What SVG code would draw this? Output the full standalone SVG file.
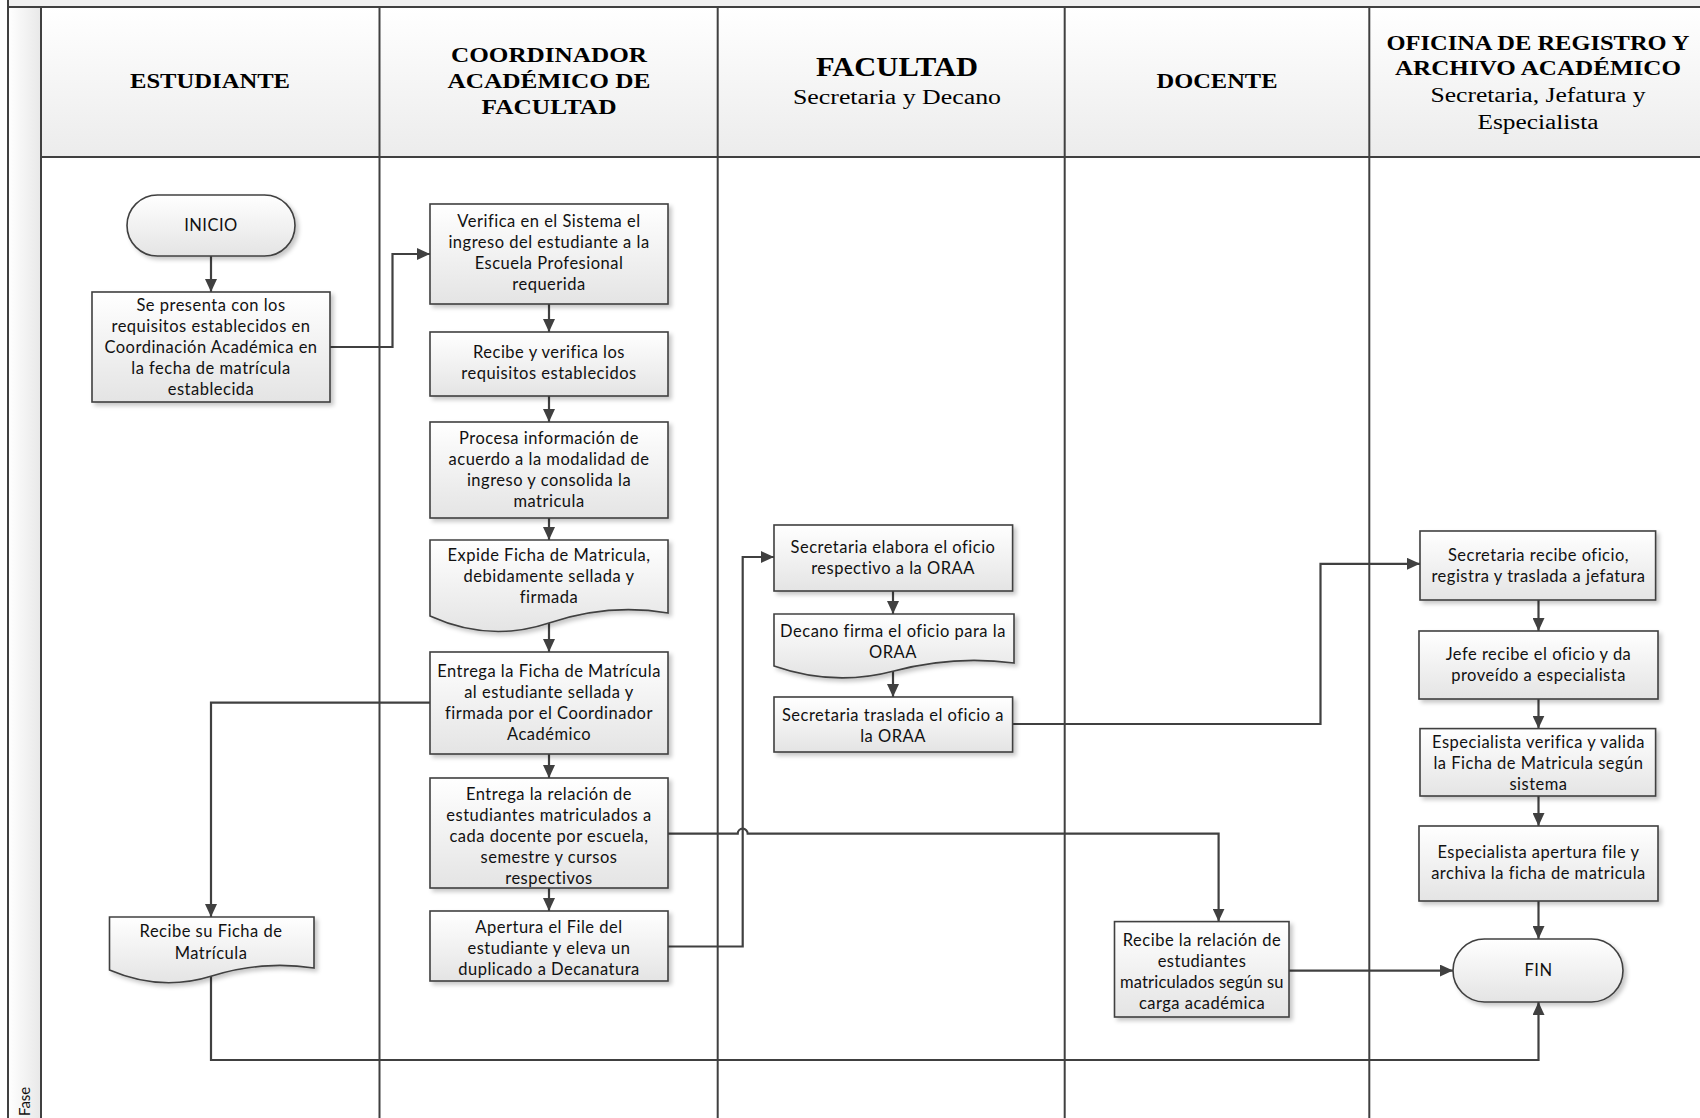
<svg xmlns="http://www.w3.org/2000/svg" width="1700" height="1118" viewBox="0 0 1700 1118">
  <defs>
    <linearGradient id="boxFill" x1="0" y1="0" x2="0" y2="1">
      <stop offset="0" stop-color="#ffffff"/>
      <stop offset="1" stop-color="#e4e4e4"/>
    </linearGradient>
    <linearGradient id="headFill" x1="0" y1="0" x2="0" y2="1">
      <stop offset="0" stop-color="#ffffff"/>
      <stop offset="1" stop-color="#ececec"/>
    </linearGradient>
    <linearGradient id="phaseFill" x1="0" y1="0" x2="1" y2="0">
      <stop offset="0" stop-color="#ffffff"/>
      <stop offset="1" stop-color="#e8e8e8"/>
    </linearGradient>
    <filter id="shadow" x="-10%" y="-10%" width="125%" height="130%">
      <feDropShadow dx="3" dy="3" stdDeviation="2" flood-color="#000" flood-opacity="0.22"/>
    </filter>
    <marker id="arrow" markerUnits="userSpaceOnUse" markerWidth="14" markerHeight="12" refX="13" refY="6" orient="auto">
      <path d="M0,0 L13,6 L0,12 Z" fill="#404040"/>
    </marker>
    <style>
      .frame { stroke: #404040; stroke-width: 2; fill: none; }
      .box { fill: url(#boxFill); stroke: #404040; stroke-width: 1.6; filter: url(#shadow); }
      .t { font-family: Lato, "Liberation Sans", sans-serif; font-size: 16.5px; letter-spacing: 0.5px; fill: #111; text-anchor: middle; }
      .h { font-family: "Liberation Serif", serif; font-weight: bold; font-size: 21px; fill: #000; text-anchor: middle; }
      .hs { font-family: "Liberation Serif", serif; font-size: 20px; fill: #000; text-anchor: middle; }
      .c { fill: none; stroke: #404040; stroke-width: 2.2; marker-end: url(#arrow); }
    </style>
  </defs>

  <!-- pool background -->
  <rect x="0" y="0" width="1700" height="1118" fill="#ffffff"/>
  <rect x="8" y="0" width="1692" height="7" fill="#f0f0f0"/>
  <rect x="8" y="7" width="33" height="1111" fill="url(#phaseFill)"/>
  <rect x="41" y="7" width="1659" height="150" fill="url(#headFill)"/>

  <!-- lane and header grid -->
  <g id="lanes" class="frame">
    <line x1="7" y1="7" x2="1700" y2="7"/>
    <line x1="8" y1="0" x2="8" y2="1118"/>
    <line x1="41" y1="7" x2="41" y2="1118"/>
    <line x1="379.5" y1="7" x2="379.5" y2="1118"/>
    <line x1="717.7" y1="7" x2="717.7" y2="1118"/>
    <line x1="1064.7" y1="7" x2="1064.7" y2="1118"/>
    <line x1="1369.3" y1="7" x2="1369.3" y2="1118"/>
    <line x1="41" y1="157" x2="1700" y2="157"/>
  </g>

  <!-- lane headers -->
  <g id="lane-headers">
    <text class="h" x="210" y="88" textLength="160" lengthAdjust="spacingAndGlyphs">ESTUDIANTE</text>
    <text class="h" x="549" y="62" textLength="196" lengthAdjust="spacingAndGlyphs">COORDINADOR</text>
    <text class="h" x="549" y="88" textLength="203" lengthAdjust="spacingAndGlyphs">ACADÉMICO DE</text>
    <text class="h" x="549" y="114" textLength="135" lengthAdjust="spacingAndGlyphs">FACULTAD</text>
    <text class="h" x="897" y="76" style="font-size:27px" textLength="162" lengthAdjust="spacingAndGlyphs">FACULTAD</text>
    <text class="hs" x="897" y="104" textLength="208" lengthAdjust="spacingAndGlyphs">Secretaria y Decano</text>
    <text class="h" x="1217" y="88" textLength="121" lengthAdjust="spacingAndGlyphs">DOCENTE</text>
    <text class="h" x="1538" y="50" textLength="303" lengthAdjust="spacingAndGlyphs">OFICINA DE REGISTRO Y</text>
    <text class="h" x="1538" y="75" textLength="286" lengthAdjust="spacingAndGlyphs">ARCHIVO ACADÉMICO</text>
    <text class="hs" x="1538" y="102" textLength="215" lengthAdjust="spacingAndGlyphs">Secretaria, Jefatura y</text>
    <text class="hs" x="1538" y="129" textLength="121" lengthAdjust="spacingAndGlyphs">Especialista</text>
    <text x="30" y="1116" transform="rotate(-90 30 1116)" style="font-family:Lato, 'Liberation Sans', sans-serif; font-size:15px; fill:#111">Fase</text>
  </g>

  <!-- connectors -->
  <g id="connectors">
    <path class="c" d="M211,256 V292"/>
    <path class="c" d="M330,347 H392.5 V254 H430"/>
    <path class="c" d="M549,304 V332"/>
    <path class="c" d="M549,396 V422"/>
    <path class="c" d="M549,518 V540"/>
    <path class="c" d="M549,623 V652"/>
    <path class="c" d="M549,754 V778"/>
    <path class="c" d="M549,888 V911"/>
    <path class="c" d="M430,702.6 H211 V917"/>
    <path class="c" d="M668,946.5 H742.7 V557 H774"/>
    <path class="c" d="M668,833.7 H737.7 A5,5 0 0 1 747.7,833.7 H1218.6 V921.6"/>
    <path class="c" d="M893,591 V614"/>
    <path class="c" d="M893,671 V697"/>
    <path class="c" d="M1012.6,724 H1320.5 V563.8 H1420"/>
    <path class="c" d="M1538.5,600 V631"/>
    <path class="c" d="M1538.5,699 V728.6"/>
    <path class="c" d="M1538.5,796 V826"/>
    <path class="c" d="M1538.5,901 V939"/>
    <path class="c" d="M1289,970.6 H1453"/>
    <path class="c" d="M211,974 V1060 H1538.5 V1002"/>
  </g>

  <!-- ESTUDIANTE lane -->
  <g id="inicio">
    <rect class="box" x="127" y="195" width="168" height="61" rx="30.5" ry="30.5"/>
    <text class="t" x="211" y="231">INICIO</text>
  </g>
  <g id="se-presenta">
    <rect class="box" x="92" y="292" width="238" height="110"/>
    <text class="t" x="211" y="311">Se presenta con los</text>
    <text class="t" x="211" y="332">requisitos establecidos en</text>
    <text class="t" x="211" y="353">Coordinación Académica en</text>
    <text class="t" x="211" y="374">la fecha de matrícula</text>
    <text class="t" x="211" y="395">establecida</text>
  </g>
  <g id="recibe-ficha">
    <path class="box" d="M109.5,917 H314 V968 Q262.9,960 211.8,976 T109.5,970 Z"/>
    <text class="t" x="211" y="937">Recibe su Ficha de</text>
    <text class="t" x="211" y="959">Matrícula</text>
  </g>

  <!-- COORDINADOR lane -->
  <g id="verifica">
    <rect class="box" x="430" y="204" width="238" height="100"/>
    <text class="t" x="549" y="227">Verifica en el Sistema el</text>
    <text class="t" x="549" y="248">ingreso del estudiante a la</text>
    <text class="t" x="549" y="269">Escuela Profesional</text>
    <text class="t" x="549" y="290">requerida</text>
  </g>
  <g id="recibe-verifica">
    <rect class="box" x="430" y="332" width="238" height="64"/>
    <text class="t" x="549" y="358">Recibe y verifica los</text>
    <text class="t" x="549" y="379">requisitos establecidos</text>
  </g>
  <g id="procesa">
    <rect class="box" x="430" y="422" width="238" height="96"/>
    <text class="t" x="549" y="444">Procesa información de</text>
    <text class="t" x="549" y="465">acuerdo a la modalidad de</text>
    <text class="t" x="549" y="486">ingreso y consolida la</text>
    <text class="t" x="549" y="507">matricula</text>
  </g>
  <g id="expide">
    <path class="box" d="M430,540 H668 V613 Q608.5,603 549,623 T430,616 Z"/>
    <text class="t" x="549" y="561">Expide Ficha de Matricula,</text>
    <text class="t" x="549" y="582">debidamente sellada y</text>
    <text class="t" x="549" y="603">firmada</text>
  </g>
  <g id="entrega-ficha">
    <rect class="box" x="430" y="652" width="238" height="102"/>
    <text class="t" x="549" y="677">Entrega la Ficha de Matrícula</text>
    <text class="t" x="549" y="698">al estudiante sellada y</text>
    <text class="t" x="549" y="719">firmada por el Coordinador</text>
    <text class="t" x="549" y="740">Académico</text>
  </g>
  <g id="entrega-relacion">
    <rect class="box" x="430" y="778" width="238" height="110"/>
    <text class="t" x="549" y="800">Entrega la relación de</text>
    <text class="t" x="549" y="821">estudiantes matriculados a</text>
    <text class="t" x="549" y="842">cada docente por escuela,</text>
    <text class="t" x="549" y="863">semestre y cursos</text>
    <text class="t" x="549" y="884">respectivos</text>
  </g>
  <g id="apertura-file">
    <rect class="box" x="430" y="911" width="238" height="70"/>
    <text class="t" x="549" y="933">Apertura el File del</text>
    <text class="t" x="549" y="954">estudiante y eleva un</text>
    <text class="t" x="549" y="975">duplicado a Decanatura</text>
  </g>

  <!-- FACULTAD lane -->
  <g id="sec-elabora">
    <rect class="box" x="774" y="525" width="238.6" height="66"/>
    <text class="t" x="893" y="553">Secretaria elabora el oficio</text>
    <text class="t" x="893" y="574">respectivo a la ORAA</text>
  </g>
  <g id="decano-firma">
    <path class="box" d="M774,614 H1014 V663 Q954,655 894,671 T774,666 Z"/>
    <text class="t" x="893" y="637">Decano firma el oficio para la</text>
    <text class="t" x="893" y="658">ORAA</text>
  </g>
  <g id="sec-traslada">
    <rect class="box" x="774" y="697" width="238.6" height="55"/>
    <text class="t" x="893" y="721">Secretaria traslada el oficio a</text>
    <text class="t" x="893" y="742">la ORAA</text>
  </g>

  <!-- DOCENTE lane -->
  <g id="recibe-relacion">
    <rect class="box" x="1114.5" y="921.6" width="174.5" height="95.4"/>
    <text class="t" x="1202" y="946">Recibe la relación de</text>
    <text class="t" x="1202" y="967">estudiantes</text>
    <text class="t" x="1202" y="988" textLength="164" lengthAdjust="spacing">matriculados según su</text>
    <text class="t" x="1202" y="1009">carga académica</text>
  </g>

  <!-- ORAA lane -->
  <g id="sec-recibe">
    <rect class="box" x="1420" y="531" width="235.6" height="69"/>
    <text class="t" x="1538.5" y="561">Secretaria recibe oficio,</text>
    <text class="t" x="1538.5" y="582">registra y traslada a jefatura</text>
  </g>
  <g id="jefe-recibe">
    <rect class="box" x="1419" y="631" width="239" height="68"/>
    <text class="t" x="1538.5" y="660">Jefe recibe el oficio y da</text>
    <text class="t" x="1538.5" y="681">proveído a especialista</text>
  </g>
  <g id="esp-verifica">
    <rect class="box" x="1420" y="728.6" width="235.6" height="67.4"/>
    <text class="t" x="1538.5" y="748">Especialista verifica y valida</text>
    <text class="t" x="1538.5" y="769">la Ficha de Matricula según</text>
    <text class="t" x="1538.5" y="790">sistema</text>
  </g>
  <g id="esp-apertura">
    <rect class="box" x="1419" y="826" width="239" height="75"/>
    <text class="t" x="1538.5" y="858">Especialista apertura file y</text>
    <text class="t" x="1538.5" y="879">archiva la ficha de matricula</text>
  </g>
  <g id="fin">
    <rect class="box" x="1453" y="939" width="170" height="63" rx="31.5" ry="31.5"/>
    <text class="t" x="1538.5" y="976">FIN</text>
  </g>
</svg>
